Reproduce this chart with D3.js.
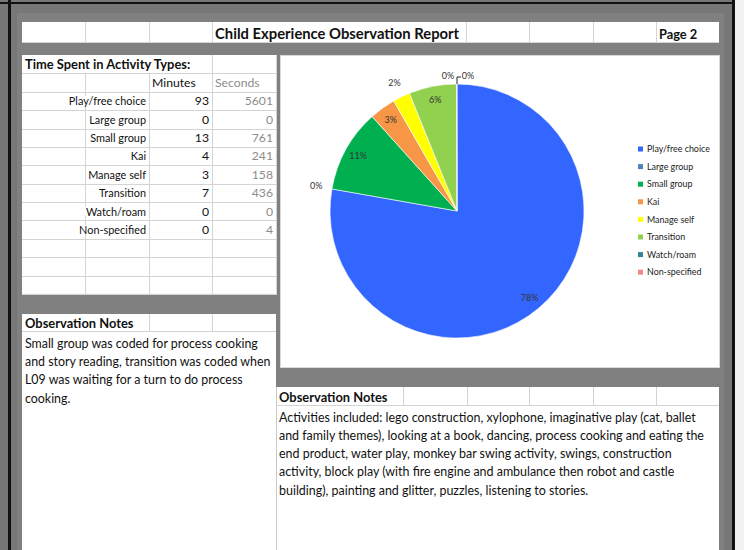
<!DOCTYPE html>
<html><head><meta charset="utf-8">
<script src="https://cdn.jsdelivr.net/npm/d3@7"></script>
<style>
html,body{margin:0;padding:0;background:#f2f2f2;}
svg{display:block;font-family:Lato,"Open Sans",sans-serif;}
</style></head>
<body>
<svg id="c" width="744" height="550"></svg>
<script>
const categories = ["Play/free choice","Large group","Small group","Kai","Manage self","Transition","Watch/roam","Non-specified"];
const minutes = [93,0,13,4,3,7,0,0];
const seconds = [5601,0,761,241,158,436,0,4];
const colors = ["#3366FF","#4F81BD","#00B050","#F79646","#FFFF00","#92D050","#31849B","#F08784"];
const titleText = "Child Experience Observation Report";
const pageText = "Page 2";
const tableTitle = "Time Spent in Activity Types:";
const colHeaders = ["Minutes","Seconds"];
const notesTitle = "Observation Notes";
const notesLeft = ["Small group was coded for process cooking","and story reading, transition was coded when","L09 was waiting for a turn to do process","cooking."];
const notesRight = ["Activities included: lego construction, xylophone, imaginative play (cat, ballet","and family themes), looking at a book, dancing, process cooking and eating the","end product, water play, monkey bar swing activity, swings, construction","activity, block play (with fire engine and ambulance then robot and castle","building), painting and glitter, puzzles, listening to stories."];

const svg = d3.select("#c");
const GRID = "#d4d4d4";
const TXT = "#111";

// page background / frame
svg.append("rect").attr("x",0).attr("y",0).attr("width",735).attr("height",550).attr("fill","#777");
svg.append("rect").attr("x",17).attr("y",13).attr("width",707).attr("height",537).attr("fill","#808080");
svg.append("rect").attr("x",0).attr("y",2).attr("width",735).attr("height",2).attr("fill","#111");
svg.append("rect").attr("x",8).attr("y",0).attr("width",3).attr("height",550).attr("fill","#111");
svg.append("rect").attr("x",732).attr("y",0).attr("width",3).attr("height",550).attr("fill","#111");

function line(x1,y1,x2,y2,c){svg.append("line").attr("x1",x1).attr("y1",y1).attr("x2",x2).attr("y2",y2).attr("stroke",c||GRID).attr("stroke-width",1).attr("shape-rendering","crispEdges");}

// ---- title row
svg.append("rect").attr("x",22).attr("y",22).attr("width",697).attr("height",21).attr("fill","#fff");
[85,149,212,466,529,593,656].forEach(x=>line(x+0.5,22,x+0.5,43));
line(22,42.5,719,42.5);
svg.append("text").attr("x",215).attr("y",38.5).attr("font-weight","bold").attr("font-size",14.8).attr("fill",TXT).text(titleText);
svg.append("text").attr("x",659).attr("y",38.5).attr("font-weight","bold").attr("font-size",12.8).attr("fill",TXT).text(pageText);

// ---- table
const tX0=22, tX1=277, tY0=55, rowH=18.38, nRows=13;
svg.append("rect").attr("x",tX0).attr("y",tY0).attr("width",tX1-tX0).attr("height",rowH*nRows).attr("fill","#fff");
const rowsY = d3.range(nRows+1).map(i=>tY0+i*rowH);
rowsY.slice(1).forEach(y=>line(tX0,Math.round(y)+0.5,tX1,Math.round(y)+0.5));
line(tX1-0.5,tY0,tX1-0.5,tY0+rowH*nRows);
for(let i=0;i<nRows;i++){
  const y0=rowsY[i], y1=rowsY[i+1];
  const cols = i===0 ? [212] : [85,149,212];
  cols.forEach(x=>line(x+0.5,y0,x+0.5,y1));
}
function cellText(x,y,t,opts){
  const o=Object.assign({anchor:"start",weight:"normal",size:12,fill:TXT},opts||{});
  const tx = svg.append("text").attr("x",x).attr("y",y).attr("text-anchor",o.anchor)
    .attr("font-weight",o.weight).attr("font-size",o.size).attr("fill",o.fill).text(t);
  const b = tx.node().getBBox();
  svg.insert("rect",()=>tx.node()).attr("x",b.x-1).attr("y",b.y+2).attr("width",b.width+2).attr("height",b.height-4).attr("fill","#fff");
  return tx;
}
const fs=10.9;
cellText(25,rowsY[0]+13.5,tableTitle,{weight:"bold",size:12.9});
cellText(152,rowsY[1]+13.5,colHeaders[0],{size:12.2});
cellText(215,rowsY[1]+13.5,colHeaders[1],{size:12.2,fill:"#8c8c8c"});
categories.forEach((c,i)=>{
  const y=rowsY[i+2]+13.5;
  cellText(146,y,c,{anchor:"end",size:fs});
  cellText(209,y,minutes[i],{anchor:"end",size:12.2});
  cellText(273,y,seconds[i],{anchor:"end",size:12.2,fill:"#8c8c8c"});
});

// ---- chart area
const cX0=280,cY0=55,cX1=720,cY1=368;
svg.append("rect").attr("x",cX0+0.5).attr("y",cY0+0.5).attr("width",cX1-cX0-1).attr("height",cY1-cY0-1).attr("fill","#fff").attr("stroke","#d9d9d9");
const cx=457, cy=211, R=127;
const total = d3.sum(seconds);
const data = categories.map((c,i)=>({name:c,value:seconds[i],color:colors[i]}));
const pie = d3.pie().sort(null).value(d=>d.value).startAngle(0).endAngle(2*Math.PI);
const arcs = pie(data);
const arc = d3.arc().innerRadius(0).outerRadius(R);
const gp = svg.append("g").attr("transform",`translate(${cx},${cy})`);
gp.selectAll("path").data(arcs).join("path").attr("d",arc).attr("fill",d=>d.data.color)
  .attr("stroke","#fff").attr("stroke-width",d=>d.value>0?0.6:0);
const pct = d=>Math.round(d.value/total*100)+"%";
const LBL = "#333";
const outerPos = (a,r)=>[Math.sin(a)*r,-Math.cos(a)*r];
arcs.forEach((d,i)=>{
  const share=d.value/total;
  const mid=(d.startAngle+d.endAngle)/2;
  let p, anchor="middle";
  if(share>=0.03){ p=outerPos(mid,R*0.89); }
  else if(i===arcs.length-2){ p=[-9,-R-8]; }
  else if(i===arcs.length-1){ p=[11,-R-8];
    gp.append("path").attr("d",`M0,${-R}V${-R-7}H4`).attr("fill","none").attr("stroke","#222").attr("stroke-width",1);
  }
  else { p=outerPos(mid,R+16); }
  gp.append("text").attr("x",p[0]).attr("y",p[1]).attr("dy","0.35em").attr("text-anchor",anchor)
    .attr("font-size",9).attr("fill",LBL).text(pct(d));
});
// legend
const lg = svg.append("g").attr("transform","translate(638,149)");
data.forEach((d,i)=>{
  const g=lg.append("g").attr("transform",`translate(0,${i*17.6})`);
  g.append("rect").attr("x",0).attr("y",-2.5).attr("width",5).attr("height",5).attr("fill",d.color);
  g.append("text").attr("x",9).attr("y",0).attr("dy","0.35em").attr("font-size",8.9).attr("fill","#222").text(d.name);
});

// ---- left notes
const lX0=22,lX1=276,lY0=314;
svg.append("rect").attr("x",lX0).attr("y",lY0).attr("width",lX1-lX0).attr("height",550-lY0).attr("fill","#fff");
line(lX0,331.5,lX1,331.5);
[149,212].forEach(x=>line(x+0.5,lY0,x+0.5,332));
svg.append("text").attr("x",25).attr("y",327.5).attr("font-weight","bold").attr("font-size",12.9).attr("fill",TXT).text(notesTitle);
notesLeft.forEach((t,i)=>svg.append("text").attr("x",25).attr("y",347.5+i*18.4).attr("font-size",12.4).attr("fill",TXT).text(t));

// ---- right notes
const rX0=276,rX1=719,rY0=387;
svg.append("rect").attr("x",rX0).attr("y",rY0).attr("width",rX1-rX0).attr("height",550-rY0).attr("fill","#fff");
line(rX0+0.5,rY0,rX0+0.5,550,"#c8c8c8");
line(rX0,405.5,rX1,405.5);
[403,467,529,593,656].forEach(x=>line(x+0.5,rY0,x+0.5,406));
svg.append("text").attr("x",279).attr("y",401.5).attr("font-weight","bold").attr("font-size",12.9).attr("fill",TXT).text(notesTitle);
notesRight.forEach((t,i)=>svg.append("text").attr("x",279).attr("y",421.5+i*18.3).attr("font-size",12.45).attr("fill",TXT).text(t));
</script>
</body></html>
